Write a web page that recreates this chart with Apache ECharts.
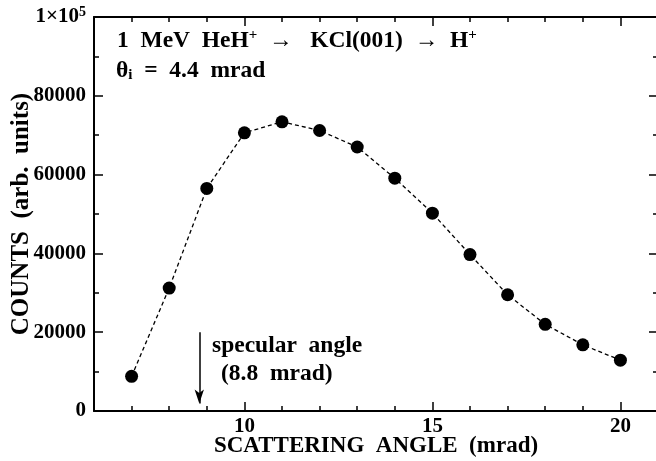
<!DOCTYPE html>
<html>
<head>
<meta charset="utf-8">
<script src="https://cdn.jsdelivr.net/npm/echarts@6/dist/echarts.min.js"></script>
<style>
  html, body { margin: 0; padding: 0; background: #fff; }
  #chart { width: 656px; height: 461px; }
</style>
</head>
<body>
<div id="chart"></div>
<script>
// scattering angle (mrad) and counts
var angles = [7, 8, 9, 10, 11, 12, 13, 14, 15, 16, 17, 18, 19, 20];
var counts = [8800, 31200, 56500, 70600, 73400, 71200, 67000, 59100, 50200, 39700, 29500, 22000, 16800, 12900];
var xLabels = [10, 15, 20];
var specular = 8.8;
var arrowSpan = [20000, 1900];

var serif = '"Liberation Serif", "Times New Roman", serif';
var chart = echarts.init(document.getElementById('chart'));

var minorX = { show: true, inside: true, length: 5, lineStyle: { color: '#000', width: 1.5 } };
var majorX = { show: true, inside: true, length: 9, customValues: xLabels, lineStyle: { color: '#000', width: 1.5 } };

function xAx(pos, tick, withLine, withLabel) {
  return {
    type: 'value', position: pos, min: 6, max: 21, interval: 1,
    axisLine: { show: withLine, onZero: false, lineStyle: { color: '#000', width: 2 } },
    axisTick: tick,
    splitLine: { show: false },
    axisLabel: withLabel ? {
      customValues: xLabels, margin: 5,
      color: '#000', fontFamily: serif, fontWeight: 'bold', fontSize: 21
    } : { show: false },
    name: withLabel ? 'SCATTERING  ANGLE  (mrad)' : '',
    nameLocation: 'middle', nameGap: 24, nameMoveOverlap: false,
    nameTextStyle: { color: '#000', fontFamily: serif, fontWeight: 'bold', fontSize: 23 }
  };
}

function yAx(pos, withLabel) {
  return {
    type: 'value', position: pos, min: 0, max: 100000, interval: 20000,
    axisLine: { show: true, lineStyle: { color: '#000', width: 2 } },
    axisTick: { show: true, inside: true, length: 9, lineStyle: { color: '#000', width: 1.5 } },
    minorTick: { show: true, splitNumber: 2, length: 5, lineStyle: { color: '#000', width: 1.5 } },
    splitLine: { show: false },
    minorSplitLine: { show: false },
    axisLabel: withLabel ? {
      margin: 8, color: '#000', fontFamily: serif, fontWeight: 'bold', fontSize: 21,
      formatter: function (v) { return v === 100000 ? '1×10{sup|5}' : String(v); },
      rich: { sup: { fontSize: 14, fontFamily: serif, fontWeight: 'bold', color: '#000', verticalAlign: 'top', padding: [0, 0, 9, 0] } }
    } : { show: false },
    name: withLabel ? 'COUNTS  (arb.  units)' : '',
    nameLocation: 'middle', nameGap: 60, nameMoveOverlap: false,
    nameTextStyle: { color: '#000', fontFamily: serif, fontWeight: 'bold', fontSize: 25 }
  };
}

var txt = { fontFamily: serif, fontWeight: 'bold', fontSize: 23.5, color: '#000' };
var sup = { fontFamily: serif, fontWeight: 'bold', fontSize: 15, color: '#000', verticalAlign: 'top', padding: [0, 0, 10, 0] };
var sub = { fontFamily: serif, fontWeight: 'bold', fontSize: 15, color: '#000', verticalAlign: 'bottom', padding: [8, 0, 0, 0] };

var option = {
  animation: false,
  backgroundColor: '#fff',
  grid: { left: 94, right: -2, top: 17, bottom: 50, containLabel: false, outerBoundsMode: 'none' },
  xAxis: [
    xAx('bottom', minorX, true, true),
    xAx('bottom', majorX, false, false),
    xAx('top', minorX, true, false),
    xAx('top', majorX, false, false)
  ],
  yAxis: [yAx('left', true), yAx('right', false)],
  graphic: [
    { type: 'text', left: 117, top: 28, style: {
      text: '{a|1  MeV  HeH}{s|+}{a|  →   KCl(001)  →  H}{s|+}',
      rich: { a: txt, s: sup } } },
    { type: 'text', left: 116, top: 59, style: {
      text: '{a|θ}{b|i}{a|  =  4.4  mrad}',
      rich: { a: txt, b: sub } } },
    { type: 'text', left: 212, top: 334, style: {
      text: 'specular  angle', fontFamily: serif, fontWeight: 'bold', fontSize: 23.5, fill: '#000' } },
    { type: 'text', left: 221, top: 362, style: {
      text: '(8.8  mrad)', fontFamily: serif, fontWeight: 'bold', fontSize: 23.5, fill: '#000' } }
  ],
  series: [{
    type: 'line',
    data: angles.map(function (a, i) { return [a, counts[i]]; }),
    symbol: 'circle', symbolSize: 13,
    itemStyle: { color: '#000' },
    lineStyle: { color: '#000', width: 1.3, type: [4, 3] },
    markLine: {
      silent: true, symbol: ['none', 'arrow'], symbolSize: [7, 14],
      label: { show: false },
      lineStyle: { color: '#000', width: 1.5, type: 'solid' },
      data: [[{ coord: [specular, arrowSpan[0]] }, { coord: [specular, arrowSpan[1]] }]]
    }
  }]
};
chart.setOption(option);
</script>
</body>
</html>
